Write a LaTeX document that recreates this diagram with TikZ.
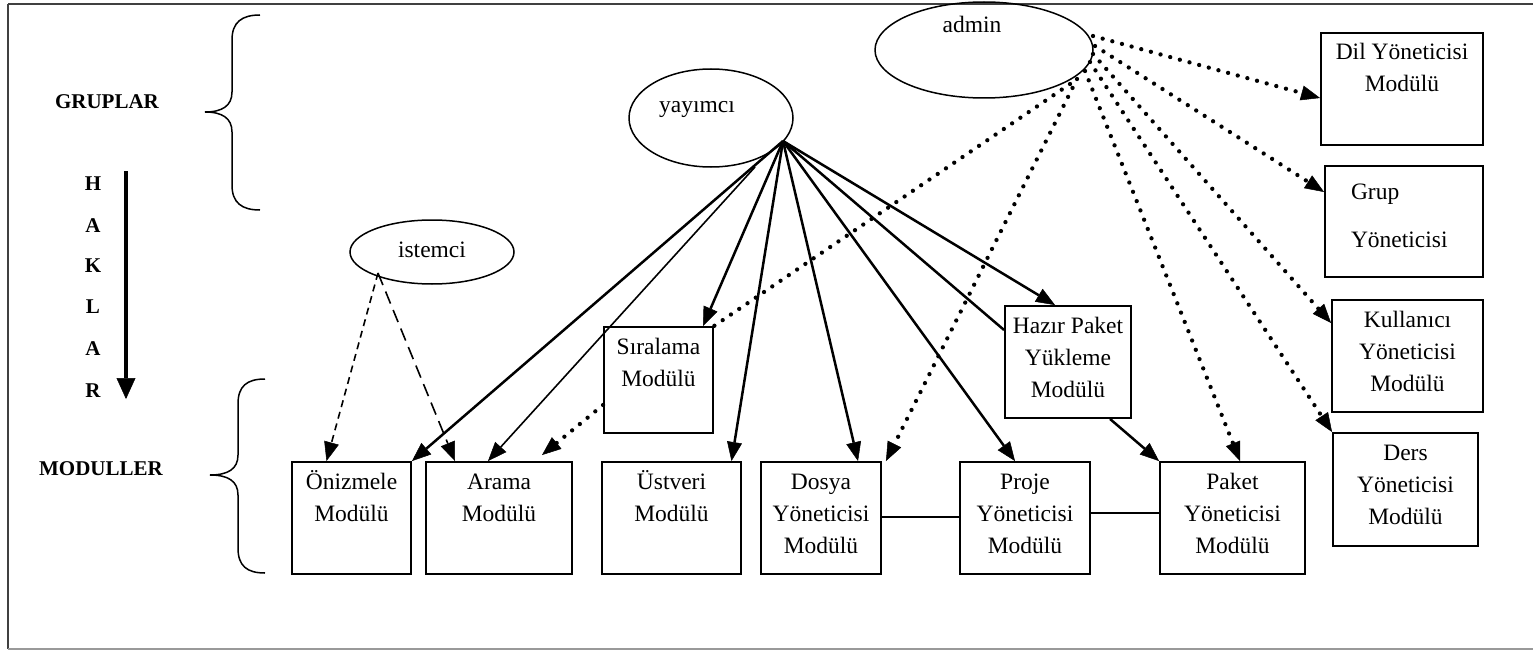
\documentclass[tikz,border=0pt]{standalone}
\usepackage{fontspec}
\setmainfont{Liberation Serif}
\usetikzlibrary{arrows.meta,shapes.geometric,calc}

% text of a module box: top-aligned, centred lines
\newcommand{\modtxt}[3]{\parbox[c][#2][t]{#1}{\centering\rule{0pt}{27pt}#3\par}}

\begin{document}
\begin{tikzpicture}[x=1pt,y=-1pt,
  modbox/.style={draw, line width=1.9pt, inner sep=0pt, font=\fontsize{23.5}{32}\selectfont},
  role/.style={draw, ellipse, line width=1.5pt, inner sep=0pt},
  rolelbl/.style={font=\fontsize{23.5}{28}\selectfont, inner sep=0pt, anchor=base},
  sidelbl/.style={font=\fontsize{21}{25}\selectfont\bfseries, inner sep=0pt, anchor=base},
  brace/.style={line width=1.5pt},
  pub/.style={line width=2.5pt, -{Triangle[length=19pt,width=15pt,line width=0.5pt]}},
  pubthin/.style={line width=1.6pt, -{Triangle[length=19pt,width=15pt,line width=0.5pt]}},
  adm/.style={line width=4.3pt, line cap=round, dash pattern=on 0pt off 10pt},
  admarrow/.style={adm, -{Triangle[length=19pt,width=15pt,line width=0.5pt]}},
  cli/.style={line width=1.6pt, -{Triangle[length=19pt,width=15pt,line width=0.5pt]}},
  link/.style={line width=1.5pt}
]
\useasboundingbox (0,0) rectangle (1533,650);

% outer frame
\draw[line width=1.6pt, black!75] (8,4) -- (1545,4);
\draw[line width=1.6pt, black!75] (8,4) -- (8,649);
\draw[line width=1.6pt, black!40] (8,649) -- (1545,649);

% side labels and braces
\node[sidelbl] (gruplar) at (107,109) {GRUPLAR};
\node[sidelbl] (moduller) at (101,475) {MODULLER};
\node[sidelbl] (h1) at (93,190) {H};
\node[sidelbl] (h2) at (93,232) {A};
\node[sidelbl] (h3) at (93,272) {K};
\node[sidelbl] (h4) at (93,313) {L};
\node[sidelbl] (h5) at (93,355) {A};
\node[sidelbl] (h6) at (93,397) {R};
\coordinate (hk0) at (126,171);
\coordinate (hk1) at (126,399);
\draw[line width=4pt, -{Triangle[length=21pt,width=19pt,line width=0.5pt]}] (hk0) -- (hk1);

\draw[brace] (260,15) .. controls (242,15) and (232,22) .. (232,40) -- (232,92)
  .. controls (232,106) and (222,112) .. (205,112)
  .. controls (222,112) and (232,118) .. (232,132) -- (232,185)
  .. controls (232,203) and (242,210) .. (260,210);
\draw[brace] (265,379) .. controls (247,379) and (238,386) .. (238,404) -- (238,455)
  .. controls (238,469) and (228,475) .. (210,475)
  .. controls (228,475) and (238,481) .. (238,495) -- (238,548)
  .. controls (238,566) and (247,573) .. (265,573);

% groups
\node[role, minimum width=218pt, minimum height=96pt] (admin) at (984,50) {};
\node[rolelbl] (adminlbl) at (972,33) {admin};
\node[role, minimum width=164pt, minimum height=98pt] (yayimci) at (711,118) {};
\node[rolelbl] (yayimcilbl) at (697,113) {yayımcı};
\node[role, minimum width=164pt, minimum height=64pt] (istemci) at (432,252) {};
\node[rolelbl] (istemcilbl) at (432,257) {istemci};

% modules
\node[modbox] (oniz) at (351.5,518) {\modtxt{119pt}{112pt}{Önizmele\\Modülü}};
\node[modbox] (arama) at (499,518) {\modtxt{146pt}{112pt}{Arama\\Modülü}};
\node[modbox] (ustveri) at (671.5,518) {\modtxt{139pt}{112pt}{Üstveri\\Modülü}};
\node[modbox] (dosya) at (821,518) {\modtxt{120pt}{112pt}{Dosya\\Yöneticisi\\Modülü}};
\node[modbox] (proje) at (1025,518) {\modtxt{130pt}{112pt}{Proje\\Yöneticisi\\Modülü}};
\node[modbox] (paket) at (1232.5,518) {\modtxt{145pt}{112pt}{Paket\\Yöneticisi\\Modülü}};
\node[modbox] (sira) at (658.5,380) {\modtxt{109pt}{106pt}{Sıralama\\Modülü}};
\node[modbox] (hazir) at (1068,362) {\modtxt{126pt}{112pt}{Hazır Paket\\Yükleme\\Modülü}};
\node[modbox] (dil) at (1402,89) {\modtxt{162pt}{112pt}{Dil Yöneticisi\\Modülü}};
\node[modbox] (grup) at (1404,221.5) {\parbox[c][111pt][t]{158pt}{\raggedright\leftskip=26pt\rule{0pt}{33pt}Grup\par\vspace{16pt}Yöneticisi\par}};
\node[modbox] (kul) at (1407.5,356) {\modtxt{151pt}{112pt}{Kullanıcı\\Yöneticisi\\Modülü}};
\node[modbox] (ders) at (1405.5,489.5) {\modtxt{145pt}{113pt}{Ders\\Yöneticisi\\Modülü}};

% module links
\draw[link] (dosya.east |- 0,517) -- (proje.west |- 0,517);
\draw[link] (proje.east |- 0,513) -- (paket.west |- 0,513);

% yayimci rights
\coordinate (y0) at (783,141);
\coordinate (y1) at (755,167);
\draw[pub] (y0) -- (oniz.north east);
\draw[pubthin] (y1) -- ([xshift=-11pt]arama.north);
\draw[pub] (y0) -- ([xshift=44.5pt]sira.north);
\draw[pub] (y0) -- ([xshift=60pt]ustveri.north);
\draw[pub] (y0) -- ([xshift=37pt]dosya.north);
\draw[pub] (y0) -- ([xshift=-10pt]proje.north);
\draw[line width=2.5pt] (y0) -- ([yshift=32pt]hazir.west);
\draw[pub] (y0) -- ([xshift=-13pt]hazir.north);
\draw[pub] ([xshift=42pt]hazir.south) -- (paket.north west);

% istemci rights
\coordinate (i0) at (378,273);
\draw[cli, dash pattern=on 7pt off 5pt] (i0) -- ([xshift=-25pt]oniz.north);
\draw[cli, dash pattern=on 13pt off 7pt] (i0) -- ([xshift=-44pt]arama.north);

% admin rights
\coordinate (a1) at (1093,36);
\coordinate (a2) at (1095,46);
\coordinate (a3) at (1093,54);
\coordinate (a4) at (1090,62);
\coordinate (a5) at (1085,71);
\coordinate (a6) at (1077,79);
\coordinate (a7) at (1070,84);
\draw[admarrow] (a1) -- ([yshift=-9pt]dil.west);
\draw[admarrow] (a2) -- ([yshift=29.5pt]grup.west);
\draw[admarrow] (a3) -- ([yshift=33pt]kul.west);
\draw[admarrow] (a4) -- (ders.north west);
\draw[admarrow] (a5) -- ([xshift=7.5pt]paket.north);
\draw[admarrow] (a6) -- ([xshift=4pt]dosya.north east);
\draw[adm] (a7) -- (sira.north east);
\draw[admarrow] ([yshift=-25pt]sira.west) -- ([xshift=43pt,yshift=6pt]arama.north);

\end{tikzpicture}
\end{document}
